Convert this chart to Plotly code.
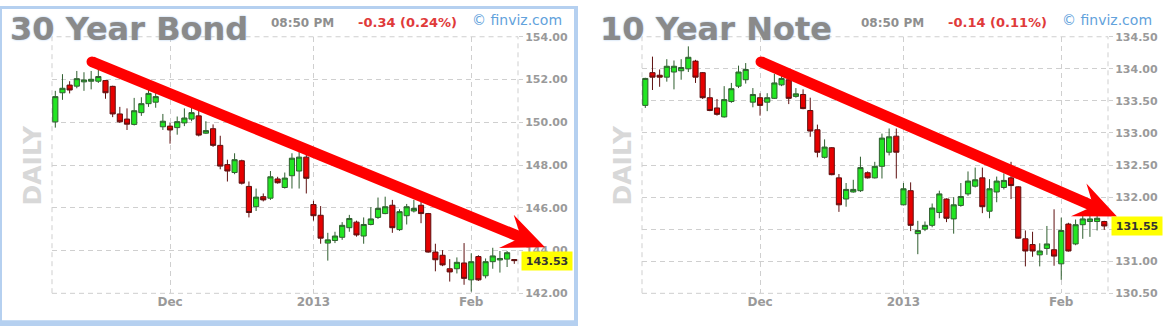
import math
import pandas as pd
import plotly.graph_objects as go

W, H = 1170, 333

# ---------------- data ----------------
holidays = ["2012-11-22", "2012-12-25", "2013-01-01"]
dates = [d.strftime("%Y-%m-%d") for d in pd.bdate_range("2012-11-08", "2013-02-11")
         if d.strftime("%Y-%m-%d") not in holidays]

tick_dates = ["2012-12-03", "2013-01-02", "2013-02-01"]
tick_labels = ["Dec", "2013", "Feb"]

bond_ticks = [142, 144, 146, 148, 150, 152, 154]
note_ticks = [130.5, 131.0, 131.5, 132.0, 132.5, 133.0, 133.5, 134.0, 134.5]

bond_open = [150.02, 151.38, 151.74, 151.69, 151.89, 151.92, 151.92, 151.95, 151.68, 150.39,
             150.15, 149.90, 150.45, 150.87, 150.94, 149.79, 149.82, 149.75, 149.97, 150.15,
             150.30, 149.49, 149.70, 148.92, 148.02, 147.65, 148.20, 147.00, 146.05, 146.52,
             146.45, 147.35, 146.95, 147.50, 147.72, 148.37, 146.15, 145.65, 144.35, 144.47,
             144.62, 145.07, 145.33, 144.68, 145.22, 145.55, 145.73, 146.12, 144.98, 145.63,
             145.85, 146.12, 145.73, 143.93, 143.78, 143.15, 143.15, 143.42, 142.63, 143.72,
             142.82, 143.48, 143.56, 143.60, 143.58]
bond_high = [151.47, 152.25, 151.92, 152.40, 152.34, 152.40, 152.59, 151.98, 151.71, 150.72,
             150.65, 151.14, 151.17, 151.62, 151.40, 150.39, 149.97, 150.27, 150.65, 150.80,
             150.72, 150.05, 149.90, 149.37, 148.25, 148.55, 148.25, 147.23, 146.90, 146.67,
             147.72, 147.45, 147.65, 148.55, 148.62, 148.47, 146.33, 146.08, 144.83, 144.88,
             145.33, 145.67, 145.40, 145.55, 146.03, 146.48, 146.52, 146.37, 145.93, 146.18,
             146.37, 146.30, 145.76, 144.32, 144.02, 143.60, 143.68, 144.35, 143.87, 143.78,
             143.63, 144.13, 143.98, 143.98, 143.60]
bond_low = [149.75, 151.05, 151.35, 151.59, 151.47, 151.54, 151.84, 151.10, 150.24, 149.97,
            149.64, 149.85, 150.30, 150.72, 150.68, 149.64, 149.00, 149.42, 149.82, 150.05,
            149.34, 149.45, 148.85, 147.80, 147.23, 147.57, 147.09, 145.55, 145.85, 146.30,
            146.37, 147.13, 146.90, 146.90, 146.90, 146.67, 145.40, 144.32, 143.53, 144.35,
            144.50, 144.88, 144.65, 144.32, 145.18, 145.48, 145.70, 144.83, 144.92, 145.22,
            145.78, 145.28, 143.90, 143.03, 143.27, 142.55, 142.93, 142.40, 142.08, 142.58,
            142.70, 143.15, 142.97, 143.23, 143.38]
bond_close = [151.20, 151.59, 151.51, 152.04, 151.98, 152.01, 152.14, 151.38, 150.39, 150.02,
              149.91, 150.54, 150.87, 151.35, 151.20, 150.05, 149.64, 150.03, 150.20, 150.45,
              149.40, 149.61, 148.92, 147.95, 147.72, 148.25, 147.15, 145.78, 146.50, 146.37,
              147.45, 147.17, 147.39, 148.32, 148.37, 147.38, 145.63, 144.58, 144.50, 144.68,
              145.18, 145.50, 144.73, 145.22, 145.48, 145.97, 146.05, 145.07, 145.82, 146.05,
              145.97, 145.73, 143.93, 143.57, 143.33, 143.00, 143.45, 142.70, 143.48, 142.63,
              143.48, 143.75, 143.63, 143.90, 143.53]

note_open = [133.43, 133.94, 133.90, 133.87, 133.95, 133.97, 134.00, 134.12, 133.94, 133.55,
             133.39, 133.25, 133.49, 133.73, 133.83, 133.48, 133.55, 133.48, 133.54, 133.75,
             133.83, 133.57, 133.60, 133.35, 133.05, 132.62, 132.77, 132.30, 131.97, 132.08,
             132.10, 132.38, 132.30, 132.48, 132.70, 132.95, 131.88, 132.10, 131.43, 131.50,
             131.56, 131.76, 131.97, 131.66, 131.87, 132.05, 132.17, 132.30, 131.78, 132.08,
             132.15, 132.30, 132.16, 131.35, 131.26, 131.10, 131.20, 131.18, 130.96, 131.58,
             131.27, 131.57, 131.62, 131.62, 131.62]
note_high = [133.86, 134.19, 133.99, 134.15, 134.13, 134.15, 134.35, 134.14, 133.95, 133.70,
             133.53, 133.73, 133.78, 134.05, 134.09, 133.70, 133.62, 133.62, 133.92, 133.90,
             133.90, 133.70, 133.68, 133.55, 133.13, 132.90, 132.78, 132.36, 132.22, 132.27,
             132.63, 132.40, 132.55, 132.99, 133.07, 133.07, 132.22, 132.23, 131.63, 131.62,
             131.90, 132.10, 131.98, 132.00, 132.22, 132.40, 132.46, 132.46, 132.28, 132.32,
             132.37, 132.55, 132.17, 131.48, 131.46, 131.28, 131.55, 131.81, 131.68, 131.60,
             131.65, 131.75, 131.72, 131.72, 131.63]
note_low = [133.39, 133.67, 133.72, 133.80, 133.68, 133.83, 133.95, 133.78, 133.53, 133.34,
            133.27, 133.24, 133.47, 133.70, 133.77, 133.40, 133.27, 133.34, 133.53, 133.73,
            133.45, 133.55, 133.37, 132.94, 132.62, 132.60, 132.34, 131.77, 131.85, 132.07,
            132.08, 132.29, 132.29, 132.29, 132.65, 132.29, 131.87, 131.47, 131.11, 131.47,
            131.53, 131.67, 131.61, 131.43, 131.85, 132.02, 132.15, 131.75, 131.67, 131.92,
            132.12, 131.97, 131.35, 130.92, 131.07, 130.92, 131.10, 130.93, 130.71, 131.15,
            131.25, 131.35, 131.38, 131.48, 131.49]
note_close = [133.85, 133.87, 133.87, 134.04, 134.04, 134.02, 134.18, 133.87, 133.55, 133.35,
              133.29, 133.52, 133.69, 133.95, 133.99, 133.60, 133.43, 133.55, 133.78, 133.85,
              133.54, 133.61, 133.38, 133.03, 132.70, 132.78, 132.35, 131.88, 132.12, 132.12,
              132.46, 132.30, 132.48, 132.92, 132.94, 132.70, 132.13, 131.56, 131.48, 131.56,
              131.83, 132.05, 131.67, 131.88, 132.01, 132.25, 132.27, 131.85, 132.13, 132.25,
              132.26, 132.18, 131.36, 131.16, 131.16, 131.16, 131.27, 131.08, 131.48, 131.16,
              131.57, 131.66, 131.66, 131.67, 131.55]

titles = ["30 Year Bond", "10 Year Note"]
changes = ["-0.34 (0.24%)", "-0.14 (0.11%)"]
time_label = "08:50 PM"

# ---------------- styling / layout ----------------
GRID = "#cfcfcf"
LABEL = "#9a9a9a"
FONT = "DejaVu Sans"
RED = "#ff0000"
PLOT_TOP, PLOT_BOT = 32, 299


def fx(x):
    return x / W


def fy(y):
    return 1 - y / H


panels = [
    dict(o=bond_open, h=bond_high, l=bond_low, c=bond_close, yr=[142, 154], ticks=bond_ticks,
         arrow=((92, 58), (545, 251)), dx=0),
    dict(o=note_open, h=note_high, l=note_low, c=note_close, yr=[130.5, 134.5], ticks=note_ticks,
         arrow=((761, 58), (1117, 219)), dx=590),
]

fig = go.Figure()
shapes = []
annotations = []
layout = {}


def rot(v, a):
    ca, sa = math.cos(a), math.sin(a)
    return (v[0] * ca - v[1] * sa, v[0] * sa + v[1] * ca)


def arrow(S, T, w=11, head_len=46, head_ang=24, notch=26):
    ddx, ddy = T[0] - S[0], T[1] - S[1]
    L = math.hypot(ddx, ddy)
    ux, uy = ddx / L, ddy / L
    back = (-ux, -uy)
    a = math.radians(head_ang)
    r1 = rot(back, a)
    r2 = rot(back, -a)
    U = (T[0] + head_len * r1[0], T[1] + head_len * r1[1])
    Lw = (T[0] + head_len * r2[0], T[1] + head_len * r2[1])
    N = (T[0] + notch * back[0], T[1] + notch * back[1])
    path = "M {},{} L {},{} L {},{} L {},{} Z".format(
        fx(T[0]), fy(T[1]), fx(U[0]), fy(U[1]), fx(N[0]), fy(N[1]), fx(Lw[0]), fy(Lw[1]))
    return [
        dict(type="line", xref="paper", yref="paper", x0=fx(S[0]), y0=fy(S[1]),
             x1=fx(N[0] + 6 * ux), y1=fy(N[1] + 6 * uy), line=dict(color=RED, width=w)),
        dict(type="circle", xref="paper", yref="paper", x0=fx(S[0] - w / 2), x1=fx(S[0] + w / 2),
             y0=fy(S[1] - w / 2), y1=fy(S[1] + w / 2), fillcolor=RED, line=dict(width=0)),
        dict(type="path", xref="paper", yref="paper", path=path, fillcolor=RED,
             line=dict(width=0)),
    ]


# blue frame around the left chart
FRAME = "#b5d0f0"
for (x0, y0, x1, y1) in [(0, 0, 578, 3), (0, 0, 2, 333), (574, 0, 578, 333), (0, 327, 578, 333)]:
    shapes.append(dict(type="rect", xref="paper", yref="paper", x0=fx(x0), x1=fx(x1),
                       y0=fy(y1), y1=fy(y0), fillcolor=FRAME, line=dict(width=0), layer="below"))

for i, p in enumerate(panels):
    sx = "" if i == 0 else "2"
    xa, ya = "x" + sx, "y" + sx
    dx = p["dx"]
    last = p["c"][-1]
    px_per_unit = (PLOT_BOT - PLOT_TOP) / (p["yr"][1] - p["yr"][0])
    # the yellow last-price box hides a tick label that sits right under it
    ticktext = ["" if abs(v - last) * px_per_unit < 6 else "{:.2f}".format(v) for v in p["ticks"]]

    fig.add_trace(go.Candlestick(
        x=dates, open=p["o"], high=p["h"], low=p["l"], close=p["c"],
        xaxis=xa, yaxis=ya, whiskerwidth=0, showlegend=False, hoverinfo="skip",
        increasing=dict(fillcolor="#22e622", line=dict(color="#2f5f2f", width=1)),
        decreasing=dict(fillcolor="#e60000", line=dict(color="#5e1010", width=1)),
    ))
    layout["xaxis" + sx] = dict(
        domain=[fx(52 + dx), fx(518 + dx)], anchor=ya, type="category",
        range=[-0.46, 64.52], tickvals=tick_dates, ticktext=tick_labels,
        showgrid=True, gridcolor=GRID, griddash="5px,4px", gridwidth=1,
        ticks="", zeroline=False, showline=False, fixedrange=True,
        rangeslider=dict(visible=False),
        tickfont=dict(family=FONT, size=12, color=LABEL, weight="bold"),
    )
    layout["yaxis" + sx] = dict(
        domain=[fy(PLOT_BOT), fy(PLOT_TOP)], anchor=xa, range=p["yr"],
        tickvals=p["ticks"], ticktext=ticktext,
        side="right", showgrid=True, gridcolor=GRID, griddash="5px,4px",
        gridwidth=1, ticks="outside", ticklen=4, tickcolor=GRID, zeroline=False,
        showline=False, fixedrange=True,
        tickfont=dict(family=FONT, size=11, color=LABEL, weight="bold"),
    )
    shapes.append(dict(type="rect", xref=xa + " domain", yref=ya + " domain", x0=0, x1=1,
                       y0=0, y1=1, line=dict(color=GRID, width=1, dash="5px,4px"), layer="below"))
    annotations += [
        dict(text=titles[i], xref="paper", yref="paper", x=fx(8 + dx), y=fy(24),
             xanchor="left", yanchor="middle", showarrow=False,
             font=dict(family=FONT, size=32, color="#8a8a8a", weight="bold",
                       shadow="0px 0px 2px #9cc0ea")),
        dict(text=time_label, xref="paper", yref="paper", x=fx(269 + dx), y=fy(18),
             xanchor="left", yanchor="middle", showarrow=False,
             font=dict(family=FONT, size=12, color="#8f8f8f", weight="bold")),
        dict(text=changes[i], xref="paper", yref="paper", x=fx(356 + dx), y=fy(17),
             xanchor="left", yanchor="middle", showarrow=False,
             font=dict(family=FONT, size=13, color="#e03a3a", weight="bold")),
        dict(text="\u00a9 finviz.com", xref="paper", yref="paper", x=fx(470 + dx), y=fy(15),
             xanchor="left", yanchor="middle", showarrow=False,
             font=dict(family=FONT, size=14, color="#62a2dc")),
        dict(text="DAILY", xref="paper", yref="paper", x=fx(33 + dx), y=fy(166),
             xanchor="center", yanchor="middle", textangle=-90, showarrow=False,
             font=dict(family=FONT, size=25, color="#d8d8d8", weight="bold")),
        dict(text="{:.2f}".format(last), xref="paper", yref=ya, x=fx(547 + dx),
             y=last, xanchor="center", yanchor="middle", showarrow=False,
             bgcolor="#ffff00", width=48, height=16,
             font=dict(family=FONT, size=11, color="#333333", weight="bold")),
    ]
    shapes += arrow(*p["arrow"])

fig.update_layout(
    width=W, height=H, autosize=False,
    margin=dict(l=0, r=0, t=0, b=0, pad=0),
    paper_bgcolor="white", plot_bgcolor="white",
    showlegend=False, shapes=shapes, annotations=annotations,
    boxgap=0.1, boxgroupgap=0.2,
    **layout,
)

fig.write_html("out.html")
